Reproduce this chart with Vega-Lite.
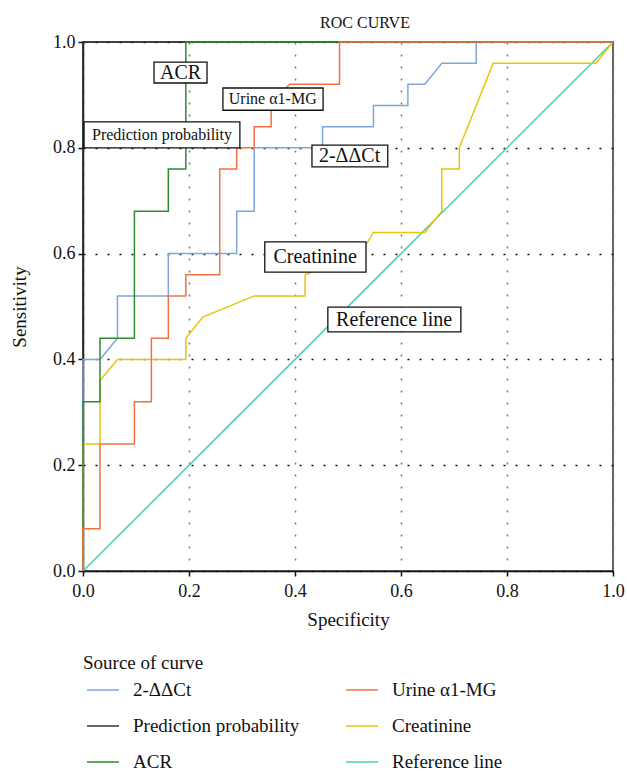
{
  "$schema": "https://vega.github.io/schema/vega-lite/v6.json",
  "width": 530,
  "height": 529,
  "autosize": {"type": "none"},
  "padding": {"left": 83, "top": 42, "right": 14, "bottom": 205},
  "background": "white",
  "title": {"text": "ROC CURVE", "font": "Liberation Serif", "fontSize": 16, "fontWeight": "normal", "color": "#111", "offset": 2, "dx": 17},
  "config": {
    "font": "Liberation Serif",
    "view": {"stroke": "#333", "strokeWidth": 1.5},
    "axis": {
      "labelFont": "Liberation Serif", "labelFontSize": 18, "labelColor": "#111", "labelFlush": false, "labelOverlap": false,
      "titleFont": "Liberation Serif", "titleFontSize": 19, "titleFontWeight": "normal", "titleColor": "#111",
      "domainColor": "#111", "domainWidth": 1.5, "tickColor": "#111", "tickWidth": 1.5, "tickSize": 5,
      "grid": true, "gridDash": [2, 10], "gridWidth": 1.5
    },
    "axisX": {"gridColor": "#777", "labelPadding": 6, "titlePadding": 10},
    "axisY": {"gridColor": "#111", "labelPadding": 3, "titlePadding": 23},
    "legend": {
      "orient": "none", "legendX": 0, "legendY": 612, "columns": 2, "columnPadding": 42, "rowPadding": 9,
      "titleFont": "Liberation Serif", "titleFontSize": 19, "titleFontWeight": "normal", "titleColor": "#111", "titlePadding": 0,
      "labelFont": "Liberation Serif", "labelFontSize": 19, "labelColor": "#111", "labelOffset": 13, "labelLimit": 400,
      "symbolType": "stroke", "symbolSize": 1024, "symbolStrokeWidth": 1.5, "symbolOffset": 3
    }
  },
  "datasets": {
    "curves": [
      {"curve": "Prediction probability", "step": 0, "fpr": 0, "tpr": 0},
      {"curve": "Prediction probability", "step": 1, "fpr": 0, "tpr": 1},
      {"curve": "Prediction probability", "step": 2, "fpr": 1, "tpr": 1},
      {"curve": "Reference line", "step": 0, "fpr": 0, "tpr": 0},
      {"curve": "Reference line", "step": 1, "fpr": 1, "tpr": 1},
      {"curve": "2-ΔΔCt", "step": 0, "fpr": 0, "tpr": 0},
      {"curve": "2-ΔΔCt", "step": 1, "fpr": 0, "tpr": 0.40},
      {"curve": "2-ΔΔCt", "step": 2, "fpr": 0.032, "tpr": 0.40},
      {"curve": "2-ΔΔCt", "step": 3, "fpr": 0.065, "tpr": 0.44},
      {"curve": "2-ΔΔCt", "step": 4, "fpr": 0.065, "tpr": 0.52},
      {"curve": "2-ΔΔCt", "step": 5, "fpr": 0.161, "tpr": 0.52},
      {"curve": "2-ΔΔCt", "step": 6, "fpr": 0.161, "tpr": 0.60},
      {"curve": "2-ΔΔCt", "step": 7, "fpr": 0.290, "tpr": 0.60},
      {"curve": "2-ΔΔCt", "step": 8, "fpr": 0.290, "tpr": 0.68},
      {"curve": "2-ΔΔCt", "step": 9, "fpr": 0.323, "tpr": 0.68},
      {"curve": "2-ΔΔCt", "step": 10, "fpr": 0.323, "tpr": 0.80},
      {"curve": "2-ΔΔCt", "step": 11, "fpr": 0.452, "tpr": 0.80},
      {"curve": "2-ΔΔCt", "step": 12, "fpr": 0.452, "tpr": 0.84},
      {"curve": "2-ΔΔCt", "step": 13, "fpr": 0.548, "tpr": 0.84},
      {"curve": "2-ΔΔCt", "step": 14, "fpr": 0.548, "tpr": 0.88},
      {"curve": "2-ΔΔCt", "step": 15, "fpr": 0.613, "tpr": 0.88},
      {"curve": "2-ΔΔCt", "step": 16, "fpr": 0.613, "tpr": 0.92},
      {"curve": "2-ΔΔCt", "step": 17, "fpr": 0.645, "tpr": 0.92},
      {"curve": "2-ΔΔCt", "step": 18, "fpr": 0.677, "tpr": 0.96},
      {"curve": "2-ΔΔCt", "step": 19, "fpr": 0.742, "tpr": 0.96},
      {"curve": "2-ΔΔCt", "step": 20, "fpr": 0.742, "tpr": 1},
      {"curve": "2-ΔΔCt", "step": 21, "fpr": 1, "tpr": 1},
      {"curve": "Creatinine", "step": 0, "fpr": 0, "tpr": 0},
      {"curve": "Creatinine", "step": 1, "fpr": 0, "tpr": 0.24},
      {"curve": "Creatinine", "step": 2, "fpr": 0.032, "tpr": 0.24},
      {"curve": "Creatinine", "step": 3, "fpr": 0.032, "tpr": 0.36},
      {"curve": "Creatinine", "step": 4, "fpr": 0.065, "tpr": 0.40},
      {"curve": "Creatinine", "step": 5, "fpr": 0.194, "tpr": 0.40},
      {"curve": "Creatinine", "step": 6, "fpr": 0.194, "tpr": 0.44},
      {"curve": "Creatinine", "step": 7, "fpr": 0.226, "tpr": 0.48},
      {"curve": "Creatinine", "step": 8, "fpr": 0.323, "tpr": 0.52},
      {"curve": "Creatinine", "step": 9, "fpr": 0.419, "tpr": 0.52},
      {"curve": "Creatinine", "step": 10, "fpr": 0.419, "tpr": 0.56},
      {"curve": "Creatinine", "step": 11, "fpr": 0.432, "tpr": 0.565},
      {"curve": "Creatinine", "step": 12, "fpr": 0.516, "tpr": 0.60},
      {"curve": "Creatinine", "step": 13, "fpr": 0.536, "tpr": 0.62},
      {"curve": "Creatinine", "step": 14, "fpr": 0.548, "tpr": 0.64},
      {"curve": "Creatinine", "step": 15, "fpr": 0.645, "tpr": 0.64},
      {"curve": "Creatinine", "step": 16, "fpr": 0.677, "tpr": 0.68},
      {"curve": "Creatinine", "step": 17, "fpr": 0.677, "tpr": 0.76},
      {"curve": "Creatinine", "step": 18, "fpr": 0.710, "tpr": 0.76},
      {"curve": "Creatinine", "step": 19, "fpr": 0.710, "tpr": 0.80},
      {"curve": "Creatinine", "step": 20, "fpr": 0.774, "tpr": 0.96},
      {"curve": "Creatinine", "step": 21, "fpr": 0.968, "tpr": 0.96},
      {"curve": "Creatinine", "step": 22, "fpr": 1, "tpr": 1},
      {"curve": "ACR", "step": 0, "fpr": 0, "tpr": 0},
      {"curve": "ACR", "step": 1, "fpr": 0, "tpr": 0.32},
      {"curve": "ACR", "step": 2, "fpr": 0.032, "tpr": 0.32},
      {"curve": "ACR", "step": 3, "fpr": 0.032, "tpr": 0.44},
      {"curve": "ACR", "step": 4, "fpr": 0.097, "tpr": 0.44},
      {"curve": "ACR", "step": 5, "fpr": 0.097, "tpr": 0.68},
      {"curve": "ACR", "step": 6, "fpr": 0.161, "tpr": 0.68},
      {"curve": "ACR", "step": 7, "fpr": 0.161, "tpr": 0.76},
      {"curve": "ACR", "step": 8, "fpr": 0.194, "tpr": 0.76},
      {"curve": "ACR", "step": 9, "fpr": 0.194, "tpr": 1},
      {"curve": "ACR", "step": 10, "fpr": 1, "tpr": 1},
      {"curve": "Urine α1-MG", "step": 0, "fpr": 0, "tpr": 0},
      {"curve": "Urine α1-MG", "step": 1, "fpr": 0, "tpr": 0.08},
      {"curve": "Urine α1-MG", "step": 2, "fpr": 0.032, "tpr": 0.08},
      {"curve": "Urine α1-MG", "step": 3, "fpr": 0.032, "tpr": 0.24},
      {"curve": "Urine α1-MG", "step": 4, "fpr": 0.097, "tpr": 0.24},
      {"curve": "Urine α1-MG", "step": 5, "fpr": 0.097, "tpr": 0.32},
      {"curve": "Urine α1-MG", "step": 6, "fpr": 0.129, "tpr": 0.32},
      {"curve": "Urine α1-MG", "step": 7, "fpr": 0.129, "tpr": 0.44},
      {"curve": "Urine α1-MG", "step": 8, "fpr": 0.161, "tpr": 0.44},
      {"curve": "Urine α1-MG", "step": 9, "fpr": 0.161, "tpr": 0.52},
      {"curve": "Urine α1-MG", "step": 10, "fpr": 0.194, "tpr": 0.52},
      {"curve": "Urine α1-MG", "step": 11, "fpr": 0.194, "tpr": 0.56},
      {"curve": "Urine α1-MG", "step": 12, "fpr": 0.258, "tpr": 0.56},
      {"curve": "Urine α1-MG", "step": 13, "fpr": 0.258, "tpr": 0.76},
      {"curve": "Urine α1-MG", "step": 14, "fpr": 0.290, "tpr": 0.76},
      {"curve": "Urine α1-MG", "step": 15, "fpr": 0.290, "tpr": 0.80},
      {"curve": "Urine α1-MG", "step": 16, "fpr": 0.323, "tpr": 0.80},
      {"curve": "Urine α1-MG", "step": 17, "fpr": 0.323, "tpr": 0.84},
      {"curve": "Urine α1-MG", "step": 18, "fpr": 0.355, "tpr": 0.84},
      {"curve": "Urine α1-MG", "step": 19, "fpr": 0.355, "tpr": 0.88},
      {"curve": "Urine α1-MG", "step": 20, "fpr": 0.385, "tpr": 0.915},
      {"curve": "Urine α1-MG", "step": 21, "fpr": 0.390, "tpr": 0.92},
      {"curve": "Urine α1-MG", "step": 22, "fpr": 0.484, "tpr": 0.92},
      {"curve": "Urine α1-MG", "step": 23, "fpr": 0.484, "tpr": 1},
      {"curve": "Urine α1-MG", "step": 24, "fpr": 1, "tpr": 1}
    ],
    "labels": [
      {"label": "ACR", "x0": 0.134, "x1": 0.234, "y0": 0.9225, "y1": 0.962, "cx": 0.184, "cy": 0.942},
      {"label": "Urine α1-MG", "x0": 0.264, "x1": 0.453, "y0": 0.871, "y1": 0.913, "cx": 0.358, "cy": 0.892},
      {"label": "Prediction probability", "x0": 0.002, "x1": 0.296, "y0": 0.800, "y1": 0.849, "cx": 0.149, "cy": 0.8245},
      {"label": "2-ΔΔCt", "x0": 0.432, "x1": 0.575, "y0": 0.764, "y1": 0.805, "cx": 0.503, "cy": 0.785},
      {"label": "Creatinine", "x0": 0.343, "x1": 0.534, "y0": 0.565, "y1": 0.622, "cx": 0.438, "cy": 0.593},
      {"label": "Reference line", "x0": 0.462, "x1": 0.713, "y0": 0.452, "y1": 0.499, "cx": 0.587, "cy": 0.475}
    ]
  },
  "layer": [
    {
      "data": {"name": "curves"},
      "encoding": {
        "x": {"field": "fpr", "type": "quantitative", "scale": {"domain": [0, 1], "nice": false, "zero": false},
              "axis": {"title": "Specificity", "values": [0, 0.2, 0.4, 0.6, 0.8, 1], "format": ".1f"}},
        "y": {"field": "tpr", "type": "quantitative", "scale": {"domain": [0, 1], "nice": false, "zero": false},
              "axis": {"title": "Sensitivity", "values": [0, 0.2, 0.4, 0.6, 0.8, 1], "format": ".1f"}},
        "order": {"field": "step", "type": "quantitative"},
        "color": {"field": "curve", "type": "nominal",
                  "legend": {"title": "Source of curve"},
                  "scale": {"domain": ["2-ΔΔCt", "Prediction probability", "ACR", "Urine α1-MG", "Creatinine", "Reference line"],
                            "range": ["#7ba7dc", "#333333", "#2f8a2f", "#f5703f", "#e9c30a", "#45d0b2"]}}
      },
      "layer": [
        {"transform": [{"filter": "datum.curve === 'Prediction probability'"}], "mark": {"type": "line", "strokeWidth": 1.5}},
        {"transform": [{"filter": "datum.curve === 'Reference line'"}], "mark": {"type": "line", "strokeWidth": 1.5}},
        {"transform": [{"filter": "datum.curve === '2-ΔΔCt'"}], "mark": {"type": "line", "strokeWidth": 1.5}},
        {"transform": [{"filter": "datum.curve === 'Creatinine'"}], "mark": {"type": "line", "strokeWidth": 1.5}},
        {"transform": [{"filter": "datum.curve === 'ACR'"}], "mark": {"type": "line", "strokeWidth": 1.5}},
        {"transform": [{"filter": "datum.curve === 'Urine α1-MG'"}], "mark": {"type": "line", "strokeWidth": 1.5}}
      ]
    },
    {
      "data": {"name": "labels"},
      "mark": {"type": "rect", "fill": "white", "stroke": "#111", "strokeWidth": 1.3},
      "encoding": {
        "x": {"field": "x0", "type": "quantitative"},
        "x2": {"field": "x1"},
        "y": {"field": "y0", "type": "quantitative"},
        "y2": {"field": "y1"}
      }
    },
    {
      "data": {"name": "labels"},
      "transform": [{"filter": {"field": "label", "oneOf": ["ACR", "2-ΔΔCt", "Creatinine", "Reference line"]}}],
      "mark": {"type": "text", "font": "Liberation Serif", "fontSize": 20, "color": "#111", "align": "center", "baseline": "middle"},
      "encoding": {
        "x": {"field": "cx", "type": "quantitative"},
        "y": {"field": "cy", "type": "quantitative"},
        "text": {"field": "label"}
      }
    },
    {
      "data": {"name": "labels"},
      "transform": [{"filter": {"field": "label", "oneOf": ["Urine α1-MG", "Prediction probability"]}}],
      "mark": {"type": "text", "font": "Liberation Serif", "fontSize": 16, "color": "#111", "align": "center", "baseline": "middle"},
      "encoding": {
        "x": {"field": "cx", "type": "quantitative"},
        "y": {"field": "cy", "type": "quantitative"},
        "text": {"field": "label"}
      }
    }
  ]
}
